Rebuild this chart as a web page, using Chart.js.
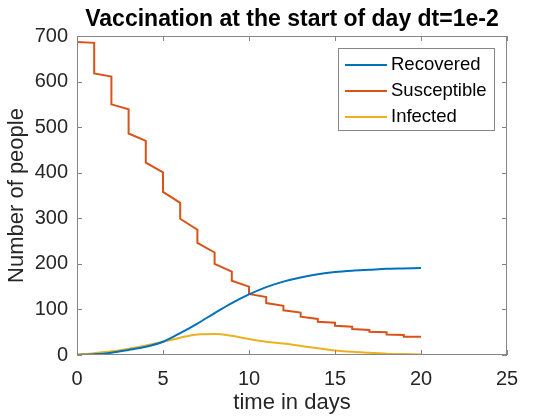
<!DOCTYPE html>
<html>
<head>
<meta charset="utf-8">
<script src="https://cdn.jsdelivr.net/npm/chart.js@4.4.1/dist/chart.umd.min.js"></script>
<style>
  html, body { margin: 0; padding: 0; background: #fff; }
  #c { display: block; }
</style>
</head>
<body>
<canvas id="c" width="560" height="420"></canvas>
<script>
// values
const days = [0,1,2,3,4,5,6,7,8,9,10,11,12,13,14,15,16,17,18,19,20];
const recovered = [0,1.5,5,11,18,29,48,69,92,114,133,149,161,170,177,182,185,187,189,190,191];
const infected  = [1,4,8,14,21,29,38,45,46,42,35,29,25,20,15,10,7,5,3,2,1];
// susceptible: value right after the vaccination drop at the start of day d, and at the end of day d
const susStart = [687,618,550,486,422,358,299,246,200,163,134,114,98,84,73,64,57,51,45,40];
const susEnd   = [685,611,539,470,401,334,275,225,183,150,127,108,93,79,71,62,55,50,44,40];
const xTicks = [0,5,10,15,20,25];
const yTicks = [0,100,200,300,400,500,600,700];

const FONT = "'Liberation Sans', Arial, Helvetica, sans-serif";
const AXIS = '#868686';
const TXT = '#262626';

const susPts = [];
susStart.forEach((v, d) => { susPts.push({ x: d, y: v }); susPts.push({ x: d + 1, y: susEnd[d] }); });

// box, inward ticks, title and legend the MATLAB way
const matlabFrame = {
  id: 'matlabFrame',
  afterDraw(chart) {
    const ctx = chart.ctx, a = chart.chartArea;
    const xs = chart.scales.x, ys = chart.scales.y;
    ctx.save();
    ctx.strokeStyle = AXIS; ctx.lineWidth = 1;
    ctx.strokeRect(a.left + 0.5, a.top + 0.5, a.right - a.left - 1, a.bottom - a.top - 1);
    ctx.beginPath();
    xTicks.forEach(t => {
      const px = Math.round(xs.getPixelForValue(t)) + 0.5;
      ctx.moveTo(px, a.bottom); ctx.lineTo(px, a.bottom - 5);
      ctx.moveTo(px, a.top); ctx.lineTo(px, a.top + 5);
    });
    yTicks.forEach(t => {
      const py = Math.round(ys.getPixelForValue(t)) + 0.5;
      ctx.moveTo(a.left, py); ctx.lineTo(a.left + 5, py);
      ctx.moveTo(a.right, py); ctx.lineTo(a.right - 5, py);
    });
    ctx.stroke();

    ctx.fillStyle = '#000';
    ctx.font = 'bold 23px ' + FONT;
    ctx.textAlign = 'center'; ctx.textBaseline = 'alphabetic';
    ctx.fillText('Vaccination at the start of day dt=1e-2', (a.left + a.right) / 2, 26);

    // legend
    const lx = 338, ly = 48, lw = 156, lh = 82;
    ctx.fillStyle = '#fff';
    ctx.fillRect(lx, ly, lw, lh);
    ctx.strokeStyle = AXIS;
    ctx.strokeRect(lx + 0.5, ly + 0.5, lw, lh);
    ctx.font = '18.5px ' + FONT;
    ctx.textAlign = 'left'; ctx.textBaseline = 'middle';
    chart.data.datasets.forEach((ds, i) => {
      const cy = 65 + i * 26;
      ctx.strokeStyle = ds.borderColor; ctx.lineWidth = 2;
      ctx.beginPath(); ctx.moveTo(345, cy); ctx.lineTo(387, cy); ctx.stroke();
      ctx.fillStyle = '#000';
      ctx.fillText(ds.label, 391, cy);
    });
    ctx.restore();
  }
};

new Chart(document.getElementById('c'), {
  type: 'line',
  data: {
    datasets: [
      { label: 'Recovered', data: days.map((d, i) => ({ x: d, y: recovered[i] })),
        borderColor: '#0072BD', cubicInterpolationMode: 'monotone' },
      { label: 'Susceptible', data: susPts, borderColor: '#D95319', tension: 0 },
      { label: 'Infected', data: days.map((d, i) => ({ x: d, y: infected[i] })),
        borderColor: '#EDB120', cubicInterpolationMode: 'monotone' }
    ]
  },
  options: {
    responsive: false,
    devicePixelRatio: 1,
    animation: false,
    layout: { padding: { top: 36, right: 53, left: 0, bottom: 0 } },
    elements: { point: { radius: 0 }, line: { borderWidth: 2, fill: false } },
    plugins: { legend: { display: false }, title: { display: false }, tooltip: { enabled: false } },
    scales: {
      x: {
        type: 'linear', min: 0, max: 25,
        afterBuildTicks: s => { s.ticks = xTicks.map(v => ({ value: v })); },
        afterFit: s => { s.height = 65; },
        grid: { display: false, drawTicks: false },
        border: { display: false },
        ticks: { color: TXT, font: { family: FONT, size: 20 }, padding: 12, maxRotation: 0 },
        title: { display: true, text: 'time in days', color: TXT, font: { family: FONT, size: 22 }, padding: { top: 0 } }
      },
      y: {
        type: 'linear', min: 0, max: 700,
        afterBuildTicks: s => { s.ticks = yTicks.map(v => ({ value: v })); },
        afterFit: s => { s.width = 77; },
        grid: { display: false, drawTicks: false },
        border: { display: false },
        ticks: { color: TXT, font: { family: FONT, size: 20 }, padding: 9 },
        title: { display: true, text: 'Number of people', color: TXT, font: { family: FONT, size: 22 }, padding: { bottom: 2 } }
      }
    }
  },
  plugins: [matlabFrame]
});
</script>
</body>
</html>
